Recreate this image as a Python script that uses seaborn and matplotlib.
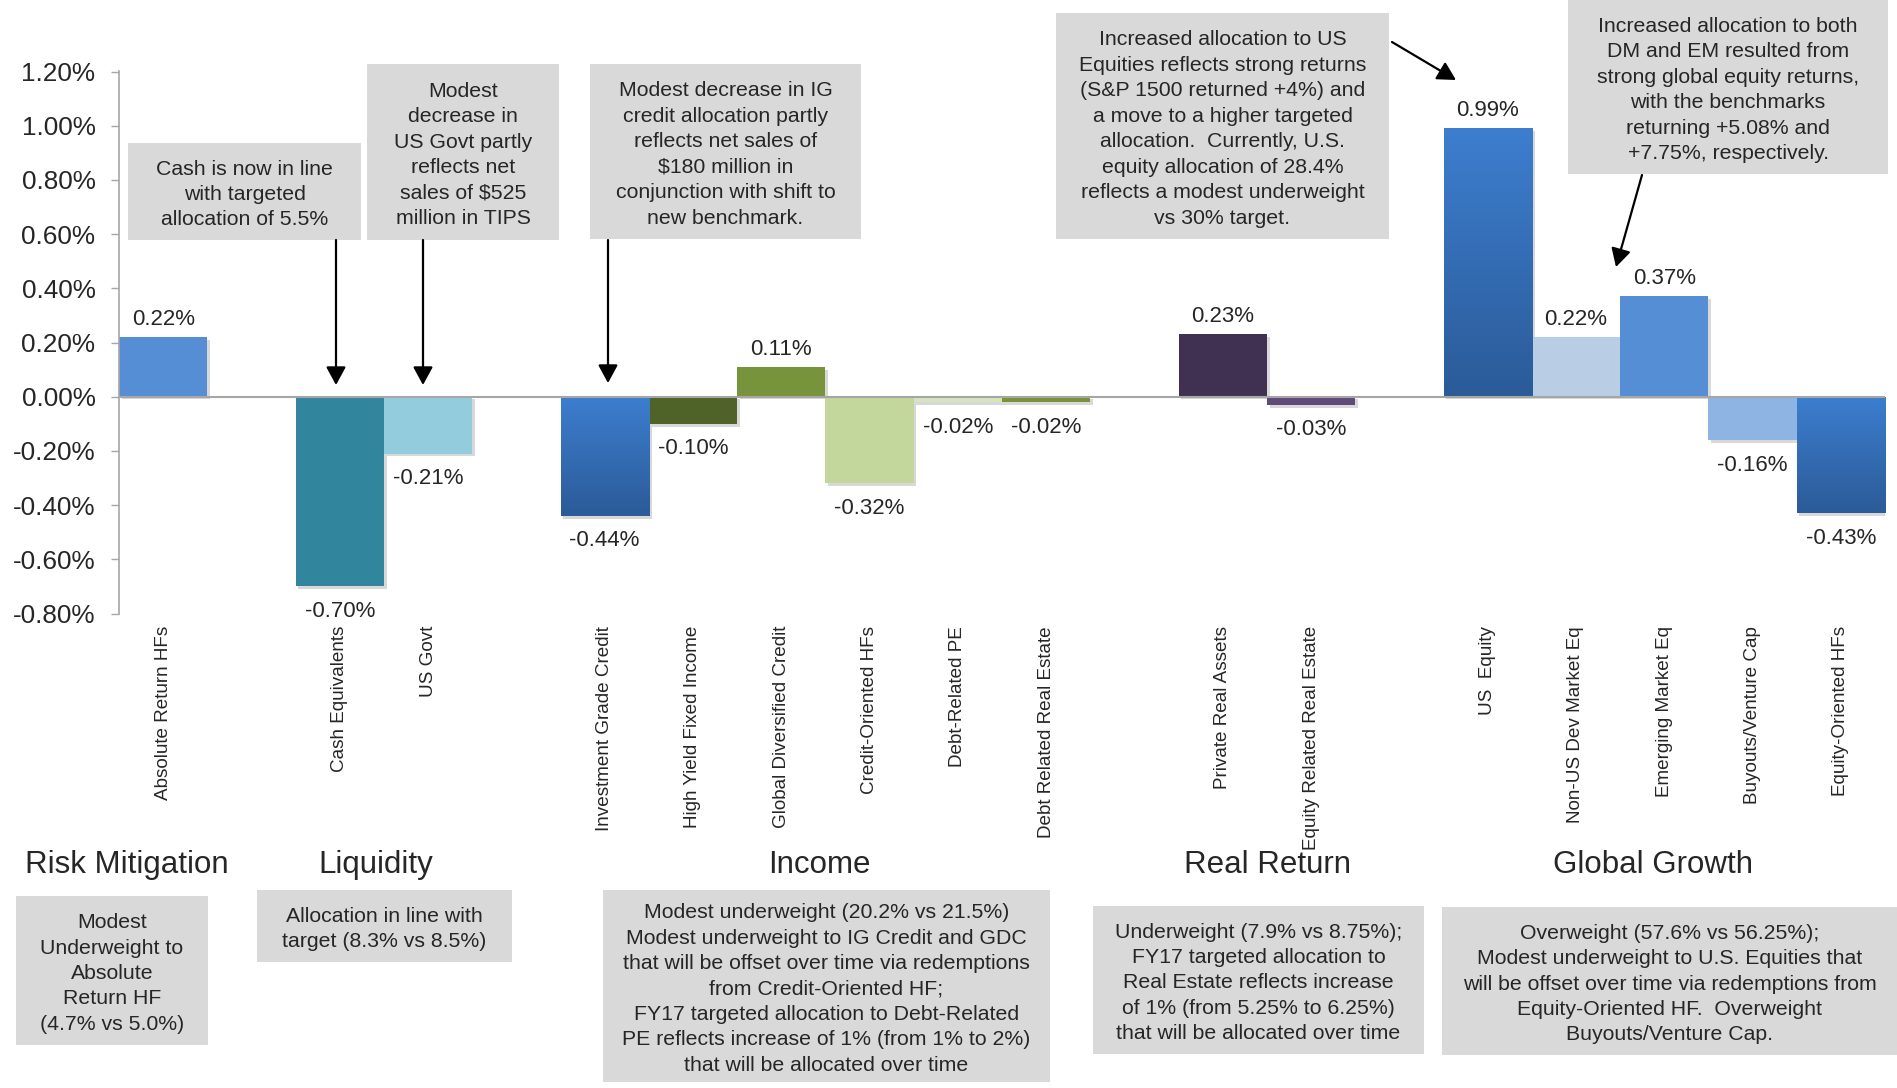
import numpy as np
import pandas as pd
import matplotlib
import matplotlib.pyplot as plt
import seaborn as sns
from matplotlib.patches import Rectangle, FancyArrowPatch
from matplotlib.colors import LinearSegmentedColormap
from matplotlib.ticker import FuncFormatter
import matplotlib.patheffects as pe

sns.set_style("white")
plt.rcParams["font.family"] = ["Liberation Sans", "DejaVu Sans"]

W, H = 1897, 1088

# chart data (percent vs target)
assets = [
    "Absolute Return HFs",
    "Cash Equivalents", "US Govt",
    "Investment Grade Credit", "High Yield Fixed Income", "Global Diversified Credit",
    "Credit-Oriented HFs", "Debt-Related PE", "Debt Related Real Estate",
    "Private Real Assets", "Equity Related Real Estate",
    "US  Equity", "Non-US Dev Market Eq", "Emerging Market Eq",
    "Buyouts/Venture Cap", "Equity-Oriented HFs",
]
groups = [
    "Risk Mitigation",
    "Liquidity", "Liquidity",
    "Income", "Income", "Income", "Income", "Income", "Income",
    "Real Return", "Real Return",
    "Global Growth", "Global Growth", "Global Growth", "Global Growth", "Global Growth",
]
values = [0.22, -0.70, -0.21, -0.44, -0.10, 0.11, -0.32, -0.02, -0.02,
          0.23, -0.03, 0.99, 0.22, 0.37, -0.16, -0.43]
colors = ["#558ED5", "#31859C", "#93CDDD", "#3A7BCB", "#4F6228", "#77933C",
          "#C3D69B", "#D7E4BD", "#77933C", "#403152", "#604A7B", "#3A7BCB",
          "#B9CDE5", "#558ED5", "#8EB4E3", "#3A7BCB"]
gradient_assets = {"Investment Grade Credit", "US  Equity", "Equity-Oriented HFs"}

# one empty slot between asset groups
slots = []
for i, (a, g) in enumerate(zip(assets, groups)):
    if i > 0 and g != groups[i - 1]:
        slots.append(f"gap{i}")
    slots.append(a)

df = pd.DataFrame({"asset": assets, "group": groups, "value": values})
palette = dict(zip(assets, colors))

# notes: (x0, y0, x1, y1) in pixels from top-left, text
top_notes = [
    ((128, 143, 361, 240), "Cash is now in line\nwith targeted\nallocation of 5.5%"),
    ((367, 64, 559, 240), "Modest\ndecrease in\nUS Govt partly\nreflects net\nsales of $525\nmillion in TIPS"),
    ((590, 64, 861, 239), "Modest decrease in IG\ncredit allocation partly\nreflects net sales of\n"
                          "$180 million in\nconjunction with shift to\nnew benchmark."),
    ((1056, 13, 1389, 239), "Increased allocation to US\nEquities reflects strong returns\n"
                            "(S&P 1500 returned +4%) and\na move to a higher targeted\n"
                            "allocation.  Currently, U.S.\nequity allocation of 28.4%\n"
                            "reflects a modest underweight\nvs 30% target."),
    ((1568, 0, 1888, 174), "Increased allocation to both\nDM and EM resulted from\n"
                           "strong global equity returns,\nwith the benchmarks\n"
                           "returning +5.08% and\n+7.75%, respectively."),
]
bottom_notes = [
    ((16, 896, 208, 1045), "Modest\nUnderweight to\nAbsolute\nReturn HF\n(4.7% vs 5.0%)"),
    ((257, 890, 512, 962), "Allocation in line with\ntarget (8.3% vs 8.5%)"),
    ((603, 890, 1050, 1082), "Modest underweight (20.2% vs 21.5%)\nModest underweight to IG Credit and GDC\n"
                             "that will be offset over time via redemptions\nfrom Credit-Oriented HF;\n"
                             "FY17 targeted allocation to Debt-Related\nPE reflects increase of 1% (from 1% to 2%)\n"
                             "that will be allocated over time"),
    ((1093, 906, 1424, 1054), "Underweight (7.9% vs 8.75%);\nFY17 targeted allocation to\n"
                              "Real Estate reflects increase\nof 1% (from 5.25% to 6.25%)\n"
                              "that will be allocated over time"),
    ((1442, 907, 1897, 1055), "Overweight (57.6% vs 56.25%);\nModest underweight to U.S. Equities that\n"
                              "will be offset over time via redemptions from\nEquity-Oriented HF.  Overweight\n"
                              "Buyouts/Venture Cap."),
]
group_titles = [("Risk Mitigation", 127), ("Liquidity", 376), ("Income", 819),
                ("Real Return", 1268), ("Global Growth", 1653)]
arrows = [((336, 240), (336, 385)), ((423, 240), (423, 385)), ((608, 240), (608, 383)),
          ((1392, 42), (1456, 80)), ((1642, 175), (1616, 267))]


def fx(x):
    return x / W


def fy(y):
    return 1 - y / H


fig = plt.figure(figsize=(W / 100, H / 100), dpi=100)
ax = fig.add_axes([fx(119), fy(613.5), fx(1885) - fx(119), fy(71.5) - fy(613.5)])

sns.barplot(data=df, x="asset", y="value", order=slots, hue="asset", palette=palette,
            width=1.0, saturation=1, legend=False, linewidth=0, ax=ax, zorder=2)

grad_cmap = LinearSegmentedColormap.from_list("bluegrad", ["#3D7ECF", "#2B5B98"])
for patch in ax.patches:
    bb = patch.get_bbox()
    if bb.width == 0:
        continue
    patch.set_path_effects([pe.SimplePatchShadow(offset=(2, -2), shadow_rgbFace="#7f7f7f", alpha=0.3),
                            pe.Normal()])
    name = slots[int(round((bb.x0 + bb.x1) / 2))]
    if name in gradient_assets:
        y_lo, y_hi = min(bb.y0, bb.y1), max(bb.y0, bb.y1)
        im = ax.imshow(np.linspace(0, 1, 256).reshape(-1, 1), cmap=grad_cmap, aspect="auto",
                       extent=(bb.x0, bb.x1, y_lo, y_hi), zorder=2.5)
        im.set_clip_path(patch)

ax.axhline(0, color="#A6A6A6", lw=1.5, zorder=3)

for a, v in zip(assets, values):
    x = slots.index(a)
    ax.annotate(f"{v:.2f}%", (x, v), xytext=(0, 8.6 if v >= 0 else -22),
                textcoords="offset points", ha="center", va="baseline", fontsize=16)

ax.set_xlim(-0.5, len(slots) - 0.5)
ax.set_ylim(-0.8, 1.2)
ax.set_yticks(np.arange(-0.8, 1.21, 0.2))
ax.yaxis.set_major_formatter(FuncFormatter(lambda v, _: f"{v:.2f}%".replace("-0.00", "0.00")))
ax.tick_params(axis="y", labelsize=18.8, length=6, width=1, color="#A6A6A6", pad=11, left=True)
ax.set_xticks(range(len(slots)))
ax.set_xticklabels([s if not s.startswith("gap") else "" for s in slots],
                   rotation=90, fontsize=13.6)
ax.tick_params(axis="x", length=0, pad=9)
ax.set_xlabel("")
ax.set_ylabel("")
for side in ["top", "right", "bottom"]:
    ax.spines[side].set_visible(False)
ax.spines["left"].set_color("#A6A6A6")
ax.spines["left"].set_linewidth(1.2)

for (x0, y0, x1, y1), text in top_notes + bottom_notes:
    fig.patches.append(Rectangle((fx(x0), fy(y1)), fx(x1) - fx(x0), fy(y0) - fy(y1),
                                 transform=fig.transFigure, facecolor="#D9D9D9",
                                 edgecolor="none", zorder=4))
    fig.text(fx((x0 + x1) / 2), fy((y0 + y1) / 2 + 3), text, ha="center", va="center",
             fontsize=15.3, linespacing=1.43, multialignment="center", zorder=5)

for title, cx in group_titles:
    fig.text(fx(cx), fy(873), title, ha="center", va="baseline", fontsize=22.5)

for (x0, y0), (x1, y1) in arrows:
    fig.add_artist(FancyArrowPatch((fx(x0), fy(y0)), (fx(x1), fy(y1)),
                                   transform=fig.transFigure, arrowstyle="-|>,head_length=0.55,head_width=0.3",
                                   mutation_scale=20, lw=1.6, color="black",
                                   shrinkA=0, shrinkB=0, zorder=6))

fig.savefig("out.png", dpi=100)
